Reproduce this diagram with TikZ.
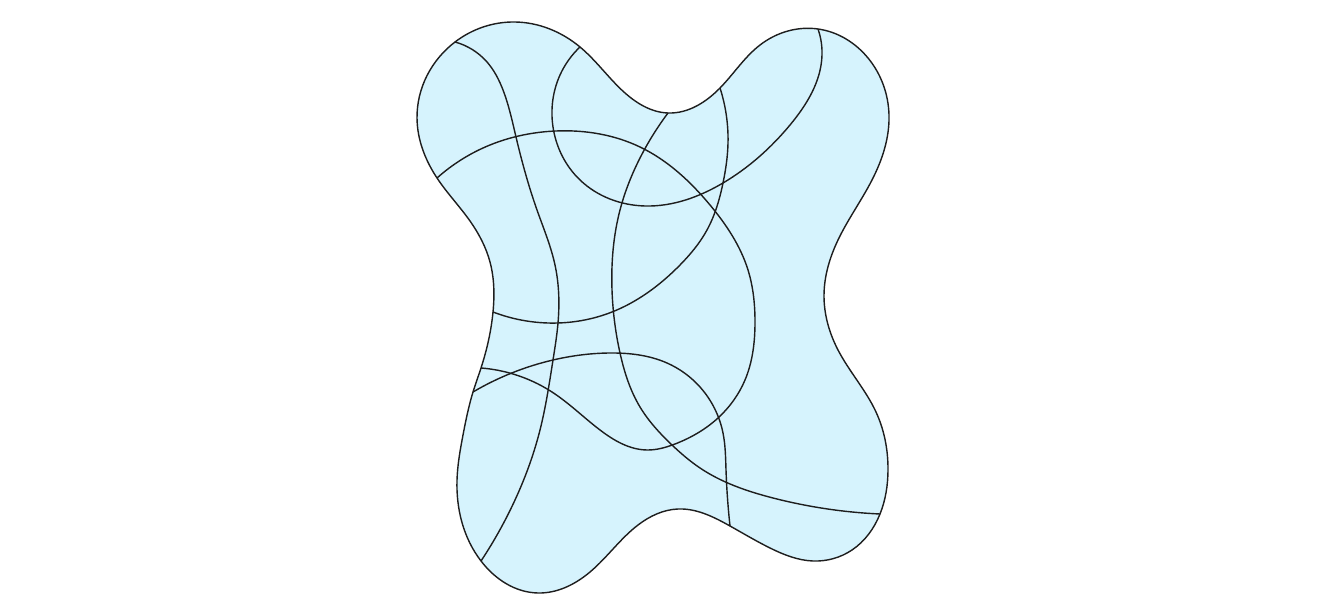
\documentclass[tikz,border=0pt]{standalone}
\definecolor{sheet}{RGB}{214,243,253}
\definecolor{seam}{RGB}{30,30,30}
\usepackage{tikz}
\usetikzlibrary{hobby}

\begin{document}
\begin{tikzpicture}[x=0.01cm,y=-0.01cm,use Hobby shortcut]
        \useasboundingbox (0,0) rectangle (1328,610);
        % outline of the sheet
        \draw[seam,thin,fill=sheet,closed=true]
          (455,42) .. (515,22) .. (580,47) .. (625,93) .. (668,113) .. (720,88)
          .. (760,45) .. (818,29) .. (868,58) .. (889,115) .. (872,180)
          .. (838,240) .. (824,295) .. (838,350) .. (876,412) .. (888,470)
          .. (880,514) .. (852,550) .. (813,561) .. (770,548) .. (730,526)
          .. (678,509) .. (638,525) .. (590,572) .. (538,593) .. (481,561)
          .. (457,480) .. (463,435) .. (473,392) .. (481,368) .. (493,312)
          .. (490,262) .. (470,221) .. (437,178) .. (417,118);
        % inner seams
        \draw[seam,thin] (455,42) .. (487,62) .. (503,90) .. (516,137)
          .. (537,210) .. (555,265) .. (558,323) .. (553,360) .. (540,430)
          .. (515,500) .. (481,561);
        \draw[seam,thin] (437,178) .. (490,145) .. (556,131) .. (640,147)
          .. (710,205) .. (748,270) .. (755,322) .. (745,380) .. (718,418)
          .. (675,444) .. (647,450) .. (600,430) .. (552,392) .. (513,374)
          .. (481,368);
        \draw[seam,thin] (580,47) .. (560,75) .. (553,127) .. (580,180)
          .. (645,206) .. (723,183) .. (790,125) .. (822,55) .. (818,29);
        \draw[seam,thin] (668,113) .. (640,158) .. (620,210) .. (612,290)
          .. (620,353) .. (640,407) .. (672,445) .. (700,468) .. (773,498)
          .. (880,514);
        \draw[seam,thin] (720,88) .. (728,143) .. (723,183) .. (707,230)
          .. (680,265) .. (612,312) .. (558,323) .. (493,312);
        \draw[seam,thin] (730,526) .. (726,470) .. (723,433) .. (700,387)
          .. (667,363) .. (610,353) .. (553,360) .. (473,392);
      \end{tikzpicture}
\end{document}
